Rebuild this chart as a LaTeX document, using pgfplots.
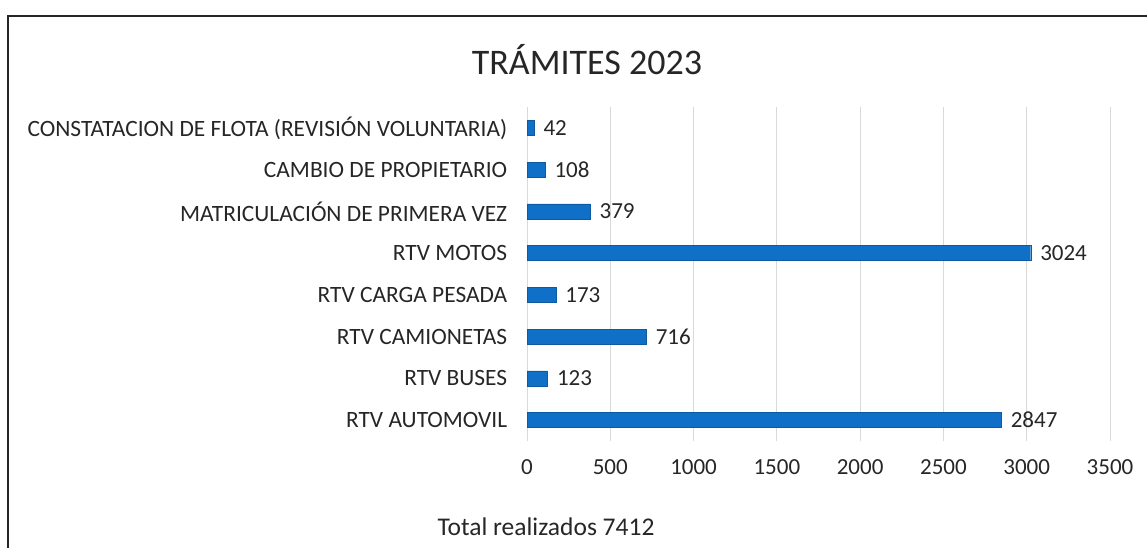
\documentclass[border=0pt]{standalone}
\usepackage{pgfplots}
\pgfplotsset{compat=1.18}
\usepackage{fontspec}
\setmainfont{Carlito}
\definecolor{barblue}{RGB}{16,112,200}
\definecolor{gridgray}{RGB}{217,217,217}
\begin{document}
\begin{tikzpicture}[x=1pt,y=1pt]
\useasboundingbox (0,0) rectangle (1147,548);
\draw[line width=1.6pt,black!85] (8,0) -- (8,532) -- (1147,532);
\begin{axis}[
  at={(527pt,107pt)}, anchor=south west,
  scale only axis, width=583pt, height=334pt,
  xbar, bar width=15pt,
  xmin=0, xmax=3500, ymin=-0.5, ymax=7.5,
  xtick={0,500,...,3500},
  ytick={0,...,7},
  yticklabels={RTV AUTOMOVIL,RTV BUSES,RTV CAMIONETAS,RTV CARGA PESADA,RTV MOTOS,MATRICULACIÓN DE PRIMERA VEZ,CAMBIO DE PROPIETARIO,CONSTATACION DE FLOTA (REVISIÓN VOLUNTARIA)},
  axis line style={draw=none},
  tick style={draw=none},
  xmajorgrids, grid style={gridgray, line width=0.8pt},
  /pgf/number format/assume math mode=true,
  /pgf/number format/1000 sep={},
  ticklabel style={font=\fontsize{23}{26}\selectfont, text=black!85},
  yticklabel style={xshift=-12pt, font=\fontsize{23.4}{26}\selectfont},
  xticklabel style={yshift=-15pt},
  nodes near coords,
  nodes near coords style={font=\fontsize{23}{26}\selectfont, text=black!85, xshift=6pt},
  clip=false,
]
\addplot[fill=barblue, draw=barblue!80!black, line width=0.4pt] coordinates {
(2847,0) (123,1) (716,2) (173,3) (3024,4) (379,5) (108,6) (42,7)
};
\end{axis}
\node[font=\fontsize{36}{40}\selectfont, text=black!85] at (587,488) {TRÁMITES 2023};
\node[font=\fontsize{25.5}{28}\selectfont, text=black!85] at (546,21) {Total realizados 7412};
\end{tikzpicture}
\end{document}
